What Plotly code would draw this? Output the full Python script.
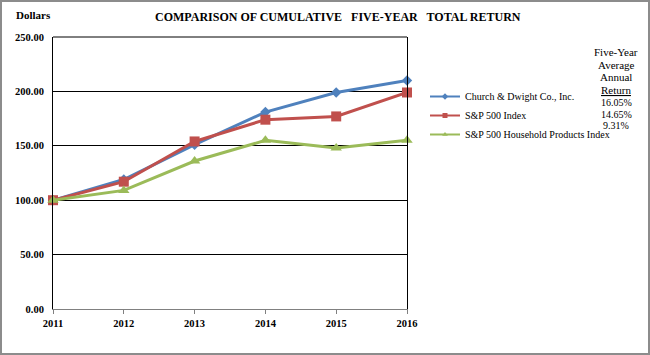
import plotly.graph_objects as go

years = [2011, 2012, 2013, 2014, 2015, 2016]
church = [100, 119, 151, 181, 199, 210]
sp500 = [100, 117, 154, 174, 177, 199]
household = [100, 109, 136, 155, 148, 155]
series_names = ["Church & Dwight Co., Inc.", "S&P 500 Index", "S&P 500 Household Products Index"]
avg_returns = ["16.05%", "14.65%", "9.31%"]
colors = ["#4F81BD", "#C0504D", "#9BBB59"]
symbols = ["diamond", "square", "triangle-up"]
msizes = [8, 10, 10]

FONT = "Liberation Serif"
W, H = 650, 355
ML, MR, MT, MB = 53, 243, 37, 46
PW, PH = W - ML - MR, H - MT - MB

def px_x(x):
    return (x - ML) / PW

def px_y(y):
    return (H - MB - y) / PH

fig = go.Figure()
for name, vals, c, s, ms in zip(series_names, [church, sp500, household], colors, symbols, msizes):
    fig.add_trace(go.Scatter(
        x=years, y=vals, name=name, mode="lines+markers",
        line=dict(color=c, width=3),
        marker=dict(symbol=s, size=ms, color=c),
        cliponaxis=False, showlegend=False,
    ))
# legend-only entries with small markers, as in the reference
for name, c, s in zip(series_names, colors, symbols):
    fig.add_trace(go.Scatter(
        x=[None], y=[None], name=name, mode="lines+markers",
        line=dict(color=c, width=2),
        marker=dict(symbol=s, size=5, color=c),
        showlegend=True,
    ))

fig.update_layout(
    width=W, height=H,
    margin=dict(l=ML, r=MR, t=MT, b=MB, autoexpand=False),
    paper_bgcolor="white", plot_bgcolor="white",
    font=dict(family=FONT, color="black"),
    showlegend=True,
    legend=dict(
        x=px_x(425), y=px_y(82), xanchor="left", yanchor="top",
        font=dict(family=FONT, size=10, color="black"),
        itemwidth=30, tracegroupgap=0, bgcolor="rgba(0,0,0,0)",
    ),
    xaxis=dict(
        range=[2011, 2016], tickmode="array", tickvals=years,
        ticktext=[str(y) for y in years],
        showgrid=False, zeroline=False, automargin=False,
        showline=True, linecolor="#808080", linewidth=1,
        ticks="outside", tickcolor="#808080", ticklen=4,
        tickfont=dict(family=FONT, size=10.5, color="black", weight="bold"),
    ),
    yaxis=dict(
        range=[0, 250], tickmode="array", tickvals=[0, 50, 100, 150, 200, 250],
        tickformat=".2f", automargin=False,
        showgrid=True, gridcolor="black", gridwidth=1,
        zeroline=False,
        showline=True, linecolor="black", linewidth=1, mirror=True,
        ticks="", ticklabelstandoff=6,
        tickfont=dict(family=FONT, size=10.5, color="black", weight="bold"),
    ),
)

# top border of plot
fig.add_shape(type="line", xref="paper", yref="paper", x0=0, x1=1, y0=1, y1=1,
              line=dict(color="black", width=1))
# outer gray frame
fig.add_shape(type="rect", xref="paper", yref="paper",
              x0=px_x(1), x1=px_x(W - 1), y0=px_y(H - 1), y1=px_y(1),
              line=dict(color="#8c8c8c", width=2), fillcolor="rgba(0,0,0,0)", layer="below")

fig.add_annotation(text="<b>COMPARISON OF CUMULATIVE   FIVE-YEAR   TOTAL RETURN</b>",
                   xref="paper", yref="paper", x=px_x(338), y=px_y(17),
                   xanchor="center", yanchor="middle", showarrow=False,
                   font=dict(family=FONT, size=12, color="black"))
fig.add_annotation(text="<b>Dollars</b>", xref="paper", yref="paper",
                   x=px_x(14), y=px_y(15), xanchor="left", yanchor="middle",
                   showarrow=False, font=dict(family=FONT, size=11, color="black"))

header = ["Five-Year", "Average", "Annual", "<u>Return</u>"]
header_y = [52, 65, 77, 90]
for t, yy in zip(header, header_y):
    fig.add_annotation(text=t, xref="paper", yref="paper", x=px_x(616), y=px_y(yy),
                       xanchor="center", yanchor="middle", showarrow=False,
                       font=dict(family=FONT, size=11, color="black"))
for t, yy in zip(avg_returns, [102, 114, 126]):
    fig.add_annotation(text=t, xref="paper", yref="paper", x=px_x(616), y=px_y(yy),
                       xanchor="center", yanchor="middle", showarrow=False,
                       font=dict(family=FONT, size=10, color="black"))

fig.write_html("out.html", config={"displayModeBar": False},
               post_script="document.body.style.margin='0';")
